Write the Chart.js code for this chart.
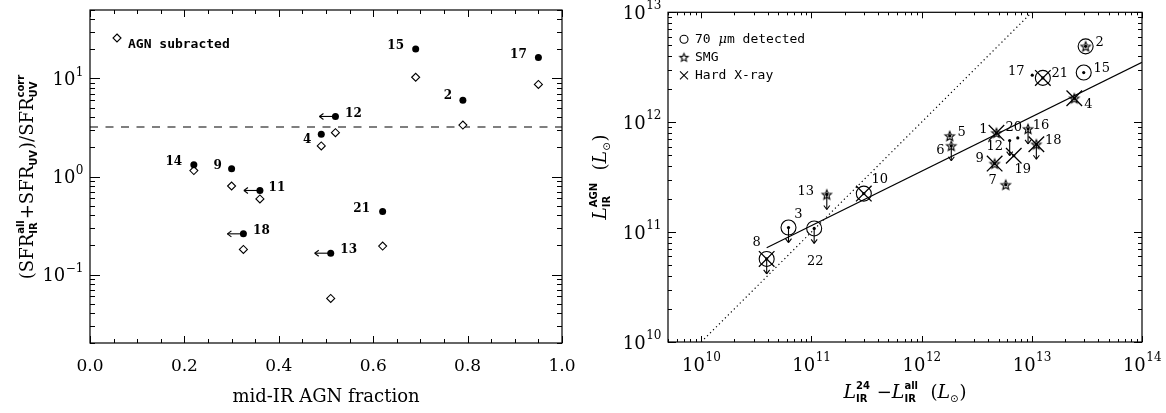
<!DOCTYPE html>
<html lang="en">
<head>
<meta charset="UTF-8">
<title>SFR ratio and AGN IR luminosity</title>
<script src="https://cdn.jsdelivr.net/npm/chart.js"></script>
<style>
  body { margin: 0; background: #fff; }
  .panel { position: absolute; top: 0; width: 583px; height: 413px; }
  #left { left: 0; }
  #right { left: 583px; }
</style>
</head>
<body>
<div class="panel" id="left"><canvas id="fracChart" width="583" height="413"></canvas></div>
<div class="panel" id="right"><canvas id="lumChart" width="583" height="413"></canvas></div>
<script>
// left panel: (SFR_IR + SFR_UV) / SFR_UV,corr against mid-IR AGN fraction
const fracIds     = ['15', '17', '2', '12', '4', '14', '9', '11', '21', '18', '13'];
const agnFrac     = [0.69, 0.95, 0.79, 0.52, 0.49, 0.22, 0.30, 0.36, 0.62, 0.325, 0.51];
const sfrRatio    = [20, 16.4, 6.0, 4.1, 2.7, 1.32, 1.2, 0.72, 0.44, 0.26, 0.165];
const sfrRatioSub = [10.3, 8.7, 3.35, 2.8, 2.05, 1.15, 0.80, 0.59, 0.195, 0.18, 0.057];
const fracUpper   = [0, 0, 0, 1, 0, 0, 0, 1, 0, 1, 1];
const ratioCut = 3.2;

// right panel: L_IR^AGN against L_IR^24 - L_IR^all
const lumIds    = ['2', '15', '21', '17', '4', '1', '20', '16', '18', '12', '19', '9', '7', '5', '6', '10', '13', '3', '22', '8'];
const lumExcess = [3.08e13, 2.96e13, 1.26e13, 1.01e13, 2.43e13, 4.78e12, 7.46e12, 9.25e12, 1.10e13, 6.3e12,
                   6.86e12, 4.6e12, 5.8e12, 1.8e12, 1.86e12, 2.99e11, 1.38e11, 6.2e10, 1.06e11, 3.93e10];
const lumAgn    = [4.9e12, 2.83e12, 2.53e12, 2.68e12, 1.65e12, 8.0e11, 7.2e11, 8.7e11, 6.3e11, 6.8e11,
                   4.95e11, 4.2e11, 2.7e11, 7.5e11, 6.1e11, 2.24e11, 2.2e11, 1.1e11, 1.08e11, 5.7e10];
const det70     = [1, 1, 1, 0, 0, 0, 0, 0, 0, 0, 0, 0, 0, 0, 0, 1, 0, 1, 1, 1];
const smg       = [1, 0, 0, 0, 1, 1, 0, 1, 1, 0, 0, 1, 1, 1, 1, 0, 1, 0, 0, 0];
const xray      = [0, 0, 1, 0, 1, 1, 0, 0, 1, 0, 1, 1, 0, 0, 0, 1, 0, 0, 0, 1];
const lumUpper  = [0, 0, 0, 0, 0, 0, 0, 1, 1, 1, 0, 0, 0, 0, 1, 0, 1, 1, 1, 1];
const fitX = [3.93e10, 1e14];
const fitY = [7.2e10, 3.5e12];
const unityX = [1e10, 1e13];

// label nudges in pixels (style only)
const fracLabelShift = [[-20,-3],[-20,-3],[-15,-4],[18,-3],[-14,6],[-20,-3],[-14,-3],[17,-3],[-21,-3],[18,-3],[18,-3]];
const lumLabelShift = [[14,-4],[18,-4],[17,-4],[-16,-4],[14,6],[-13,-3],[-4,-10],[13,-3],[17,-4],[-15,6],
                       [9,14],[-15,-5],[-13,-4],[12,-3],[-11,5],[16,-14],[-21,-3],[10,-13],[1,33],[-10,-16]];

const SERIF = '"DejaVu Serif", serif';
const SANS = '"DejaVu Sans", sans-serif';
const MONO = '"DejaVu Sans Mono", monospace';
const BIG = '18px ' + SERIF;
const ITAL = 'italic 19px ' + SERIF;
const SMALL = 'bold 10px ' + SANS;

function starImage(r) {
  const s = Math.ceil(r * 2 + 4);
  const c = document.createElement('canvas');
  c.width = c.height = s;
  const g = c.getContext('2d');
  g.translate(s / 2, s / 2 + r * 0.1);
  g.beginPath();
  for (let i = 0; i < 10; i++) {
    const a = -Math.PI / 2 + i * Math.PI / 5;
    const rr = i % 2 ? r * 0.45 : r;
    g.lineTo(rr * Math.cos(a), rr * Math.sin(a));
  }
  g.closePath();
  g.lineWidth = 1.1;
  g.strokeStyle = '#000';
  g.stroke();
  return c;
}
const starPoint = starImage(5);
const starLegend = starImage(4.3);

function logTicks(min, max) {
  const out = [];
  for (let e = Math.floor(Math.log10(min)); e <= Math.ceil(Math.log10(max)); e++) {
    for (let m = 1; m <= 9; m++) {
      const v = m * Math.pow(10, e);
      if (v >= min * 0.9999 && v <= max * 1.0001) out.push({ v, major: m === 1, e });
    }
  }
  return out;
}

function linTicks(min, max, step, majorStep) {
  const out = [];
  const n = Math.round((max - min) / step);
  for (let i = 0; i <= n; i++) {
    const v = min + i * step;
    const q = v / majorStep;
    out.push({ v, major: Math.abs(q - Math.round(q)) < 1e-6 });
  }
  return out;
}

// text with stacked sub/superscripts
function drawRich(ctx, parts, x, y, align) {
  const widths = parts.map(p => {
    ctx.font = p.font;
    if (p.t !== undefined) return ctx.measureText(p.t).width;
    const a = p.sub ? ctx.measureText(p.sub).width : 0;
    const b = p.sup ? ctx.measureText(p.sup).width : 0;
    return Math.max(a, b) + 1;
  });
  const total = widths.reduce((s, w) => s + w, 0);
  let cx = align === 'center' ? x - total / 2 : align === 'right' ? x - total : x;
  ctx.textAlign = 'left';
  ctx.textBaseline = 'middle';
  parts.forEach((p, i) => {
    ctx.font = p.font;
    if (p.t !== undefined) {
      ctx.fillText(p.t, cx, y);
    } else {
      if (p.sub) ctx.fillText(p.sub, cx, y + 6);
      if (p.sup) ctx.fillText(p.sup, cx, y - 7);
    }
    cx += widths[i];
  });
}

function drawPow(ctx, e, x, y, align) {
  const exp = e < 0 ? '\u2212' + (-e) : String(e);
  ctx.font = '18px ' + SERIF;
  const wb = ctx.measureText('10').width;
  ctx.font = '12px ' + SERIF;
  const we = ctx.measureText(exp).width;
  const x0 = align === 'center' ? x - (wb + we) / 2 : x - wb - we;
  ctx.textAlign = 'left';
  ctx.textBaseline = 'middle';
  ctx.font = '18px ' + SERIF;
  ctx.fillText('10', x0, y);
  ctx.font = '12px ' + SERIF;
  ctx.fillText(exp, x0 + wb + 0.5, y - 8);
}

function line(ctx, x1, y1, x2, y2) {
  ctx.beginPath();
  ctx.moveTo(x1, y1);
  ctx.lineTo(x2, y2);
  ctx.stroke();
}

// box, inward ticks on all four sides, tick labels
function drawAxes(chart, spec) {
  const { ctx, chartArea: a, scales } = chart;
  ctx.save();
  ctx.strokeStyle = '#000';
  ctx.fillStyle = '#000';
  ctx.lineWidth = 1.2;
  ctx.strokeRect(a.left, a.top, a.right - a.left, a.bottom - a.top);
  ctx.lineWidth = 1;
  spec.xTicks.forEach(t => {
    const px = Math.round(scales.x.getPixelForValue(t.v)) + 0.5;
    const L = t.major ? spec.xLen[0] : spec.xLen[1];
    line(ctx, px, a.bottom, px, a.bottom - L);
    line(ctx, px, a.top, px, a.top + L);
  });
  spec.yTicks.forEach(t => {
    const py = Math.round(scales.y.getPixelForValue(t.v)) + 0.5;
    const L = t.major ? spec.yLen[0] : spec.yLen[1];
    line(ctx, a.left, py, a.left + L, py);
    line(ctx, a.right, py, a.right - L, py);
  });
  spec.xTicks.filter(t => t.major).forEach(t => {
    const px = scales.x.getPixelForValue(t.v);
    if (spec.xLog) {
      drawPow(ctx, t.e, px, a.bottom + 24, 'center');
    } else {
      ctx.font = '17px ' + SERIF;
      ctx.textAlign = 'center';
      ctx.textBaseline = 'middle';
      ctx.fillText(t.v.toFixed(1), px, a.bottom + 24);
    }
  });
  spec.yTicks.filter(t => t.major).forEach(t => {
    const py = scales.y.getPixelForValue(t.v);
    drawPow(ctx, t.e, a.left - 7, py + 2, 'right');
  });
  ctx.restore();
}

function fixedAxes(ySize, xSize) {
  return {
    y: { afterFit: s => { s.width = ySize; } },
    x: { afterFit: s => { s.height = xSize; } }
  };
}

const hiddenAxis = {
  display: true,
  grid: { display: false, drawTicks: false },
  border: { display: false },
  ticks: { display: false }
};

// ---------- left chart ----------
const fracDots = agnFrac.map((x, i) => ({ x, y: sfrRatio[i] }));
const fracDiamonds = agnFrac.map((x, i) => ({ x, y: sfrRatioSub[i] }));
const fracFix = fixedAxes(90, 70);

const fracPlugin = {
  id: 'fracDecor',
  afterDatasetsDraw(chart) {
    const { ctx, chartArea: a, scales } = chart;
    ctx.save();
    ctx.strokeStyle = '#000';
    ctx.fillStyle = '#000';
    ctx.lineWidth = 1.1;
    // upper-limit arrows pointing left
    fracDots.forEach((p, i) => {
      if (!fracUpper[i]) return;
      const px = scales.x.getPixelForValue(p.x), py = scales.y.getPixelForValue(p.y);
      const tip = px - 16;
      line(ctx, px, py, tip, py);
      line(ctx, tip, py, tip + 4, py - 3);
      line(ctx, tip, py, tip + 4, py + 3);
    });
    ctx.font = 'bold 12px ' + SERIF;
    ctx.textAlign = 'center';
    ctx.textBaseline = 'middle';
    fracDots.forEach((p, i) => {
      const px = scales.x.getPixelForValue(p.x), py = scales.y.getPixelForValue(p.y);
      ctx.fillText(fracIds[i], px + fracLabelShift[i][0], py + fracLabelShift[i][1]);
    });
    // legend
    const lx = a.left + 27, ly = a.top + 28;
    ctx.beginPath();
    ctx.moveTo(lx, ly - 4); ctx.lineTo(lx + 4, ly); ctx.lineTo(lx, ly + 4); ctx.lineTo(lx - 4, ly);
    ctx.closePath();
    ctx.stroke();
    ctx.font = 'bold 13px ' + MONO;
    ctx.textAlign = 'left';
    ctx.fillText('AGN subracted', a.left + 38, a.top + 35);
    ctx.restore();
  },
  afterDraw(chart) {
    drawAxes(chart, {
      xTicks: linTicks(0, 1, 0.05, 0.2), yTicks: logTicks(0.02, 50),
      xLen: [7, 4], yLen: [10, 5], xLog: false
    });
    const { ctx, chartArea: a } = chart;
    ctx.save();
    ctx.fillStyle = '#000';
    ctx.font = BIG;
    ctx.textAlign = 'center';
    ctx.textBaseline = 'middle';
    ctx.fillText('mid-IR AGN fraction', (a.left + a.right) / 2, 397);
    ctx.translate(28, (a.top + a.bottom) / 2);
    ctx.rotate(-Math.PI / 2);
    drawRich(ctx, [
      { t: '(SFR', font: BIG }, { sub: 'IR', sup: 'all', font: SMALL },
      { t: '+SFR', font: BIG }, { sub: 'UV', font: SMALL },
      { t: ')/SFR', font: BIG }, { sub: 'UV', sup: 'corr', font: SMALL }
    ], 0, 0, 'center');
    ctx.restore();
  }
};

new Chart(document.getElementById('fracChart'), {
  type: 'scatter',
  data: {
    datasets: [
      { data: fracDots, pointStyle: 'circle', pointRadius: 3.5, pointBackgroundColor: '#000', pointBorderColor: '#000', pointBorderWidth: 0 },
      { data: fracDiamonds, pointStyle: 'rectRot', pointRadius: 4, pointBackgroundColor: '#fff', pointBorderColor: '#000', pointBorderWidth: 1.1 },
      { data: [{ x: 0, y: ratioCut }, { x: 1, y: ratioCut }], showLine: true, pointRadius: 0, borderColor: '#000', borderWidth: 1.2, borderDash: [8, 7.5] }
    ]
  },
  options: {
    responsive: false,
    animation: false,
    devicePixelRatio: 1,
    events: [],
    layout: { padding: { top: 10, right: 21, left: 0, bottom: 0 } },
    plugins: { legend: { display: false }, tooltip: { enabled: false } },
    scales: {
      x: { ...hiddenAxis, type: 'linear', min: 0, max: 1, ...fracFix.x },
      y: { ...hiddenAxis, type: 'logarithmic', min: 0.02, max: 50, ...fracFix.y }
    }
  },
  plugins: [fracPlugin]
});

// ---------- right chart ----------
const lumPts = lumIds.map((id, i) => ({ x: lumExcess[i], y: lumAgn[i] }));
const pick = flags => lumPts.filter((p, i) => flags[i]);
const lumFix = fixedAxes(85, 71);

const lumPlugin = {
  id: 'lumDecor',
  afterDatasetsDraw(chart) {
    const { ctx, chartArea: a, scales } = chart;
    ctx.save();
    ctx.strokeStyle = '#000';
    ctx.fillStyle = '#000';
    ctx.lineWidth = 1.1;
    // upper-limit arrows pointing down
    lumPts.forEach((p, i) => {
      if (!lumUpper[i]) return;
      const px = scales.x.getPixelForValue(p.x), py = scales.y.getPixelForValue(p.y);
      const tip = py + 15;
      line(ctx, px, py, px, tip);
      line(ctx, px, tip, px - 3, tip - 4);
      line(ctx, px, tip, px + 3, tip - 4);
    });
    ctx.font = '13px ' + SERIF;
    ctx.textAlign = 'center';
    ctx.textBaseline = 'middle';
    lumPts.forEach((p, i) => {
      const px = scales.x.getPixelForValue(p.x), py = scales.y.getPixelForValue(p.y);
      ctx.fillText(lumIds[i], px + lumLabelShift[i][0], py + lumLabelShift[i][1]);
    });
    // legend
    const sx = a.left + 16, tx = a.left + 27;
    const rows = [a.top + 27, a.top + 45, a.top + 63];
    ctx.beginPath();
    ctx.arc(sx, rows[0], 4, 0, Math.PI * 2);
    ctx.stroke();
    ctx.drawImage(starLegend, sx - starLegend.width / 2, rows[1] - starLegend.height / 2);
    line(ctx, sx - 4, rows[2] - 4, sx + 4, rows[2] + 4);
    line(ctx, sx - 4, rows[2] + 4, sx + 4, rows[2] - 4);
    const mono = '13px ' + MONO;
    drawRich(ctx, [{ t: '70 ', font: mono }, { t: '\u03bc', font: 'italic 13px ' + SERIF }, { t: 'm detected', font: mono }], tx, rows[0], 'left');
    drawRich(ctx, [{ t: 'SMG', font: mono }], tx, rows[1], 'left');
    drawRich(ctx, [{ t: 'Hard X-ray', font: mono }], tx, rows[2], 'left');
    ctx.restore();
  },
  afterDraw(chart) {
    drawAxes(chart, {
      xTicks: logTicks(5e9, 1e14), yTicks: logTicks(1e10, 1e13),
      xLen: [6, 3], yLen: [8, 4], xLog: true
    });
    const { ctx, chartArea: a } = chart;
    const sun = { sub: '\u2299', font: '10px ' + SANS };
    ctx.save();
    ctx.fillStyle = '#000';
    drawRich(ctx, [
      { t: 'L', font: ITAL }, { sub: 'IR', sup: '24', font: SMALL },
      { t: ' \u2212', font: BIG }, { t: 'L', font: ITAL }, { sub: 'IR', sup: 'all', font: SMALL },
      { t: '  (', font: BIG }, { t: 'L', font: ITAL }, sun, { t: ')', font: BIG }
    ], (a.left + a.right) / 2, 393, 'center');
    ctx.translate(18, (a.top + a.bottom) / 2);
    ctx.rotate(-Math.PI / 2);
    drawRich(ctx, [
      { t: 'L', font: ITAL }, { sub: 'IR', sup: 'AGN', font: SMALL },
      { t: '  (', font: BIG }, { t: 'L', font: ITAL }, sun, { t: ')', font: BIG }
    ], 0, 0, 'center');
    ctx.restore();
  }
};

new Chart(document.getElementById('lumChart'), {
  type: 'scatter',
  data: {
    datasets: [
      { data: lumPts, pointStyle: 'circle', pointRadius: 1.6, pointBackgroundColor: '#000', pointBorderWidth: 0 },
      { data: pick(det70), pointStyle: 'circle', pointRadius: 7.5, pointBackgroundColor: 'rgba(0,0,0,0)', pointBorderColor: '#000', pointBorderWidth: 1.1 },
      { data: pick(smg), pointStyle: starPoint },
      { data: pick(xray), pointStyle: 'crossRot', pointRadius: 11, pointBorderColor: '#000', pointBorderWidth: 1.3 },
      { data: fitX.map((x, i) => ({ x, y: fitY[i] })), showLine: true, pointRadius: 0, borderColor: '#000', borderWidth: 1.2 },
      { data: unityX.map(x => ({ x, y: x })), showLine: true, pointRadius: 0, borderColor: '#000', borderWidth: 1.2, borderDash: [1.2, 3] }
    ]
  },
  options: {
    responsive: false,
    animation: false,
    devicePixelRatio: 1,
    events: [],
    layout: { padding: { top: 8, right: 24, left: 0, bottom: 0 } },
    plugins: { legend: { display: false }, tooltip: { enabled: false } },
    scales: {
      x: { ...hiddenAxis, type: 'logarithmic', min: 5e9, max: 1e14, ...lumFix.x },
      y: { ...hiddenAxis, type: 'logarithmic', min: 1e10, max: 1e13, ...lumFix.y }
    }
  },
  plugins: [lumPlugin]
});
</script>
</body>
</html>
